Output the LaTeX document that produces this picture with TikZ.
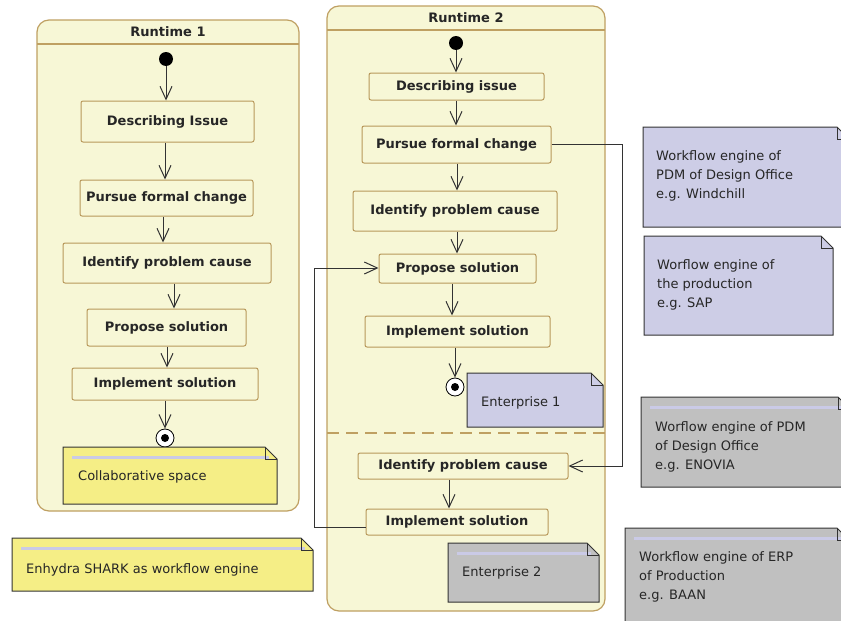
\documentclass[tikz,border=0pt]{standalone}
\usepackage{fontspec}
\setmainfont{DejaVu Sans}
\usetikzlibrary{arrows.meta,calc}
\definecolor{cfill}{HTML}{F7F7D6}
\definecolor{cborder}{HTML}{BFA062}
\definecolor{bborder}{HTML}{B8985A}
\definecolor{lav}{HTML}{CDCDE6}
\definecolor{grayn}{HTML}{C0C0C0}
\definecolor{yelnote}{HTML}{F5EE86}
\definecolor{stripec}{HTML}{CACAE6}
\definecolor{linec}{HTML}{333333}
\newcommand{\umlnote}[5]{%
  \path[draw=linec, fill=#5, line width=1pt] (#1,#2) -- ({#3-12},#2) -- (#3,{#2+12}) -- (#3,#4) -- (#1,#4) -- cycle;}
\newcommand{\notefold}[3]{%
  \draw[linec, line width=1pt] ({#3-12},#2) -- ({#3-12},{#2+12}) -- (#3,{#2+12});}
\newcommand{\notestripe}[3]{%
  \draw[stripec, line width=3pt] ({#1+9},{#2+10}) -- ({#3-8},{#2+10});}
\begin{document}
\begin{tikzpicture}[x=1pt,y=-1pt,
  act/.style={draw=bborder, fill=cfill, rounded corners=2pt, line width=1pt, inner sep=0pt,
    font=\bfseries\fontsize{13}{15}\selectfont, text=black!85},
  title/.style={font=\bfseries\fontsize{13}{15}\selectfont, text=black!85},
  notetext/.style={font=\fontsize{13}{19}\selectfont, align=left, anchor=west, inner sep=0pt, text=black!85},
  arr/.style={draw=linec, line width=1pt, -{Straight Barb[length=13pt,width=12pt]}},
  conn/.style={draw=linec, line width=1pt},
  initst/.style={circle, fill=black, minimum size=14pt, inner sep=0pt},
  finst/.style={circle, draw=black, fill=white, line width=0.8pt, minimum size=18pt, inner sep=0pt}]
\useasboundingbox (0,0) rectangle (841,621);
\clip (0,0) rectangle (841,621);
\fill[white] (0,0) rectangle (841,621);

% ---------- Runtime 1 container
\draw[draw=cborder, fill=cfill, line width=1.2pt, rounded corners=12pt] (37,20) rectangle (299,511);
\draw[cborder, line width=1.2pt] (37,44) -- (299,44);
\node[title] (rt1) at (168,32) {Runtime 1};

% ---------- Runtime 2 container
\draw[draw=cborder, fill=cfill, line width=1.2pt, rounded corners=12pt] (327,6) rectangle (605,611);
\draw[cborder, line width=1.2pt] (327,30) -- (605,30);
\draw[cborder, line width=1.2pt, dash pattern=on 12pt off 7pt] (327,433) -- (605,433);
\node[title] (rt2) at (466,18) {Runtime 2};

% ---------- Runtime 1 nodes
\node[initst] (init1) at (166,59) {};
\node[act, minimum width=173pt, minimum height=41pt] (d1) at (167.5,121.5) {Describing Issue};
\node[act, minimum width=173pt, minimum height=36pt] (p1) at (166.5,198) {Pursue formal change};
\node[act, minimum width=208pt, minimum height=40pt] (i1) at (167,263) {Identify problem cause};
\node[act, minimum width=159pt, minimum height=37pt] (s1) at (166.5,327.5) {Propose solution};
\node[act, minimum width=186pt, minimum height=32pt] (m1) at (165,384) {Implement solution};
\node[finst] (f1) at (165,438) {};
\fill (f1.center) circle (4);

\draw[arr] (init1.south) -- (d1.north -| init1.south);
\draw[arr] (d1.south -| 165,0) -- (p1.north -| 165,0);
\draw[arr] (p1.south -| 163,0) -- (i1.north -| 163,0);
\draw[arr] (i1.south -| 174,0) -- (s1.north -| 174,0);
\draw[arr] (s1.south -| 167,0) -- (m1.north -| 167,0);
\draw[arr] (m1.south -| f1.north) -- (f1.north);

% ---------- Runtime 2 nodes
\node[initst] (init2) at (456,43) {};
\node[act, minimum width=175pt, minimum height=27pt] (d2) at (456.5,86.5) {Describing issue};
\node[act, minimum width=189pt, minimum height=37pt] (p2) at (456.5,144.5) {Pursue formal change};
\node[act, minimum width=204pt, minimum height=40pt] (i2) at (455,211) {Identify problem cause};
\node[act, minimum width=157pt, minimum height=29pt] (s2) at (457.5,268.5) {Propose solution};
\node[act, minimum width=185pt, minimum height=31pt] (m2) at (457.5,331.5) {Implement solution};
\node[finst] (f2) at (455,387) {};
\fill (f2.center) circle (4);
\node[act, minimum width=210pt, minimum height=26pt] (i3) at (463,466) {Identify problem cause};
\node[act, minimum width=182pt, minimum height=26pt] (m3) at (457,522) {Implement solution};

\draw[arr] (init2.south) -- (d2.north -| init2.south);
\draw[arr] (d2.south -| 456,0) -- (p2.north -| 456,0);
\draw[arr] (p2.south -| 457,0) -- (i2.north -| 457,0);
\draw[arr] (i2.south -| 457,0) -- (s2.north -| 457,0);
\draw[arr] (s2.south -| 452,0) -- (m2.north -| 452,0);
\draw[arr] (m2.south -| f2.north) -- (f2.north);
\draw[arr] (i3.south -| 449,0) -- (m3.north -| 449,0);

% ---------- cross connectors
\coordinate (c1) at (622,144);
\coordinate (c2) at (622,466);
\draw[arr] (p2.east |- c1) -- (c1) -- (c2) -- (i3.east |- c2);
\coordinate (c3) at (314,527);
\coordinate (c4) at (314,268);
\draw[arr] (m3.west |- c3) -- (c3) -- (c4) -- (s2.west |- c4);

% ---------- notes
% Collaborative space
\umlnote{63}{447}{277}{504}{yelnote}
\notestripe{63}{447}{277}
\notefold{63}{447}{277}
\node[notetext] (ncoll) at (78,477) {Collaborative space};

% Enterprise 1
\umlnote{467}{373}{603}{427}{lav}
\notefold{467}{373}{603}
\node[notetext] (nent1) at (481,403) {Enterprise 1};

% Enterprise 2
\umlnote{448}{543}{599}{602}{grayn}
\notestripe{448}{543}{599}
\notefold{448}{543}{599}
\node[notetext] (nent2) at (462,573) {Enterprise 2};

% Enhydra SHARK
\umlnote{12}{538}{313}{591}{yelnote}
\notestripe{12}{538}{313}
\notefold{12}{538}{313}
\node[notetext] (nshark) at (26,570) {Enhydra SHARK as workflow engine};

% Windchill
\umlnote{643}{127}{849}{227}{lav}
\notefold{643}{127}{849}
\node[notetext] (nwind) at (656,176) {Workflow engine of\\PDM of Design Office\\e.g. Windchill};

% SAP
\umlnote{644}{236}{833}{335}{lav}
\notefold{644}{236}{833}
\node[notetext] (nsap) at (657,285) {Worflow engine of\\the production\\e.g. SAP};

% ENOVIA
\umlnote{641}{397}{850}{487}{grayn}
\notestripe{641}{397}{850}
\notefold{641}{397}{850}
\node[notetext] (nenov) at (655,447) {Worflow engine of PDM\\of Design Office\\e.g. ENOVIA};

% BAAN
\umlnote{625}{528}{849}{640}{grayn}
\notestripe{625}{528}{849}
\notefold{625}{528}{849}
\node[notetext] (nbaan) at (639,577) {Workflow engine of ERP\\of Production\\e.g. BAAN};
\end{tikzpicture}
\end{document}
